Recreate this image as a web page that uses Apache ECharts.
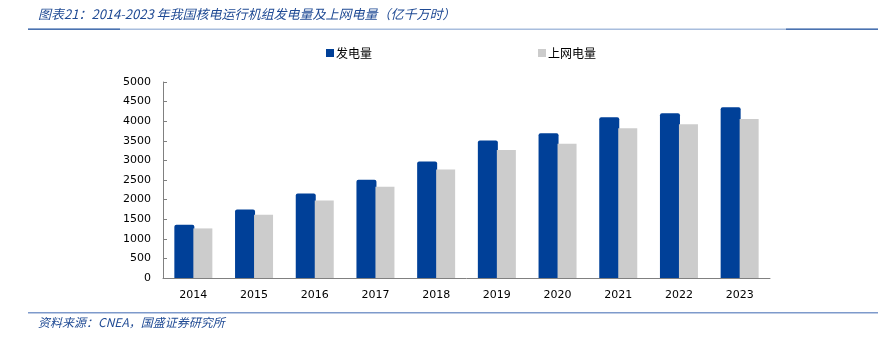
<!DOCTYPE html>
<html><head><meta charset="utf-8">
<script src="https://cdn.jsdelivr.net/npm/echarts@6/dist/echarts.min.js"></script>
<style>html,body{margin:0;padding:0;background:#fff}#c{width:892px;height:340px}</style>
</head><body><div id="c"></div>
<script>
var years = ['2014','2015','2016','2017','2018','2019','2020','2021','2022','2023'];
var generation = [1360, 1750, 2155, 2505, 2970, 3505, 3695, 4100, 4200, 4355];
var onGrid = [1265, 1615, 1980, 2325, 2765, 3265, 3425, 3820, 3920, 4055];
var yTicks = [0, 500, 1000, 1500, 2000, 2500, 3000, 3500, 4000, 4500, 5000];
var titleText = '图表21：2014-2023 年我国核电运行机组发电量及上网电量（亿千万时）';
var sourceText = '资料来源：CNEA，国盛证券研究所';

var chart = echarts.init(document.getElementById('c'));
var axisColor = '#808080';
var labelFont = 'DejaVu Sans';
chart.setOption({
  animation: false,
  grid: {left: 163, right: 122, top: 82, bottom: 62},
  legend: {
    top: 42, left: 321, itemGap: 166, itemWidth: 8, itemHeight: 8,
    icon: 'rect',
    textStyle: {fontFamily: 'Noto Sans CJK SC', fontSize: 12, color: '#000', padding: [0,0,0,-3]},
    data: ['发电量', '上网电量']
  },
  xAxis: {
    type: 'category', data: years,
    axisLine: {lineStyle: {color: axisColor}},
    axisTick: {inside: true, length: 4, lineStyle: {color: axisColor}},
    axisLabel: {fontFamily: labelFont, fontSize: 11, color: '#000', margin: 12}
  },
  yAxis: {
    type: 'value', min: yTicks[0], max: yTicks[yTicks.length-1], interval: 500,
    axisLine: {show: true, lineStyle: {color: axisColor}},
    axisTick: {show: true, inside: true, length: 4, lineStyle: {color: axisColor}},
    splitLine: {show: false},
    axisLabel: {fontFamily: labelFont, fontSize: 11, color: '#000', margin: 12,
      formatter: function (v) { return String(v); }}
  },
  series: [
    {name: '发电量', type: 'bar', data: generation, barWidth: 20, barGap: '-5%',
     itemStyle: {color: '#004098', borderRadius: [2,2,0,0]}},
    {name: '上网电量', type: 'bar', data: onGrid, barWidth: 19,
     itemStyle: {color: '#CCCCCC'}}
  ],
  graphic: [
    {type: 'text', left: 38, top: 8, style: {text: titleText, font: 'italic 13px "Noto Sans CJK SC"', fill: '#1F4A94'}},
    {type: 'rect', shape: {x: 28, y: 28.5, width: 850, height: 1.5}, style: {fill: '#A8BDDD'}},
    {type: 'rect', shape: {x: 28, y: 28.5, width: 92, height: 1.5}, style: {fill: '#4A72B0'}},
    {type: 'rect', shape: {x: 786, y: 28.5, width: 92, height: 1.5}, style: {fill: '#4A72B0'}},
    {type: 'rect', shape: {x: 28, y: 312, width: 850, height: 1.5}, style: {fill: '#7E9ACB'}},
    {type: 'text', left: 38, top: 316, style: {text: sourceText, font: 'italic 12px "Noto Sans CJK SC"', fill: '#1F4A94'}}
  ]
});
</script></body></html>
